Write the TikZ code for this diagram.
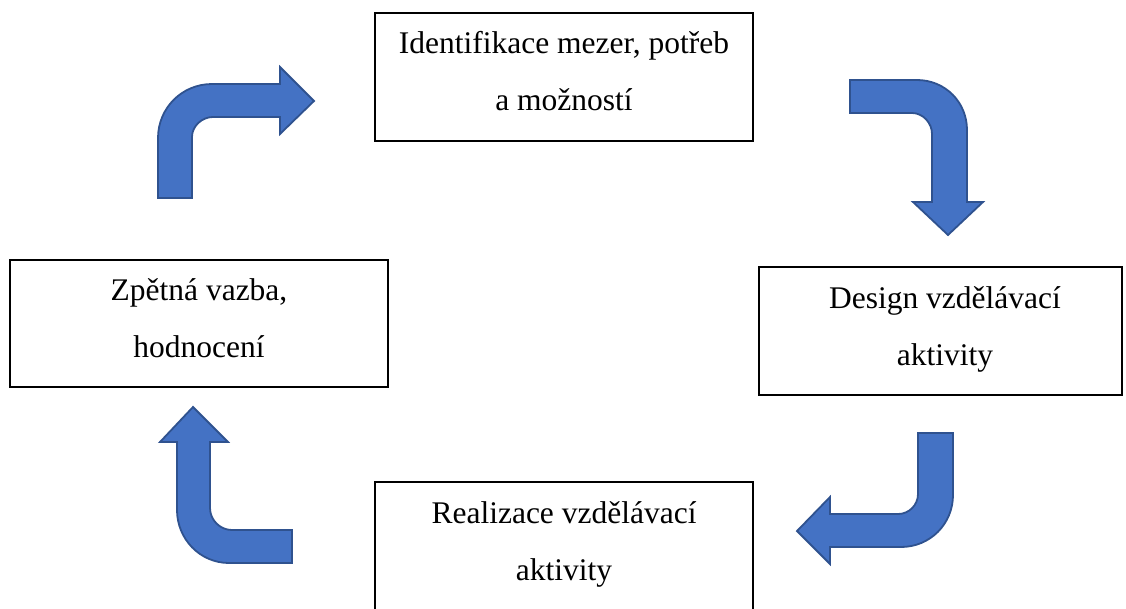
\documentclass[tikz,border=0pt]{standalone}
\usepackage{fontspec}
\setmainfont{Liberation Serif}
\begin{document}
\begin{tikzpicture}[x=1pt,y=-1pt,
  box/.style={draw=black,line width=1.3pt,fill=none},
  txt/.style={align=center,inner sep=0pt,font=\fontsize{31.5}{57}\selectfont,anchor=base},
  bent/.style={fill={rgb,255:red,68;green,114;blue,196},draw={rgb,255:red,47;green,82;blue,143},line width=1.8pt,line join=miter}]
\useasboundingbox (0,0) rectangle (1126,608);
% boxes
\path[box] (375,13) rectangle (753,141);
\coordinate (b1) at (564,110);
\path[box] (759,267) rectangle (1122,395);
\coordinate (b2) at (945,365);
\path[box] (375,482) rectangle (753,640);
\coordinate (b3) at (564,580);
\path[box] (10,260) rectangle (388,387);
\coordinate (b4) at (199,357);
\node[txt] (t1) at (b1) {Identifikace mezer, potřeb\\a možností};
\node[txt] (t2) at (b2) {Design vzdělávací\\aktivity};
\node[txt] (t3) at (b3) {Realizace vzdělávací\\aktivity};
\node[txt] (t4) at (b4) {Zpětná vazba,\\hodnocení};
% arrow 1: up then right
\path[bent] (158,198) -- (158,138) .. controls (158,108) and (182,84) .. (212,84)
  -- (280,84) -- (280,67) -- (314,101) -- (280,134) -- (280,117) -- (213,117)
  .. controls (202,117) and (192,126) .. (192,137) -- (192,198) -- cycle;
% arrow 2: right then down
\path[bent] (850,80) -- (917,80) .. controls (945,80) and (967,102) .. (967,130)
  -- (967,202) -- (983,202) -- (948,235) -- (913,202) -- (932,202) -- (932,134)
  .. controls (932,123) and (923,113) .. (912,113) -- (850,113) -- cycle;
% arrow 3: down then left
\path[bent] (918,433) -- (953,433) -- (953,495) .. controls (953,524) and (930,547) .. (901,547)
  -- (830,547) -- (830,564) -- (797,531) -- (830,497) -- (830,514) -- (898,514)
  .. controls (909,514) and (918,505) .. (918,494) -- cycle;
% arrow 4: left then up
\path[bent] (292,563) -- (292,530) -- (232,530) .. controls (220,530) and (210,520) .. (210,508)
  -- (210,442) -- (228,442) -- (193,407) -- (160,442) -- (177,442) -- (177,510)
  .. controls (177,539) and (200,563) .. (229,563) -- cycle;
\end{tikzpicture}
\end{document}
